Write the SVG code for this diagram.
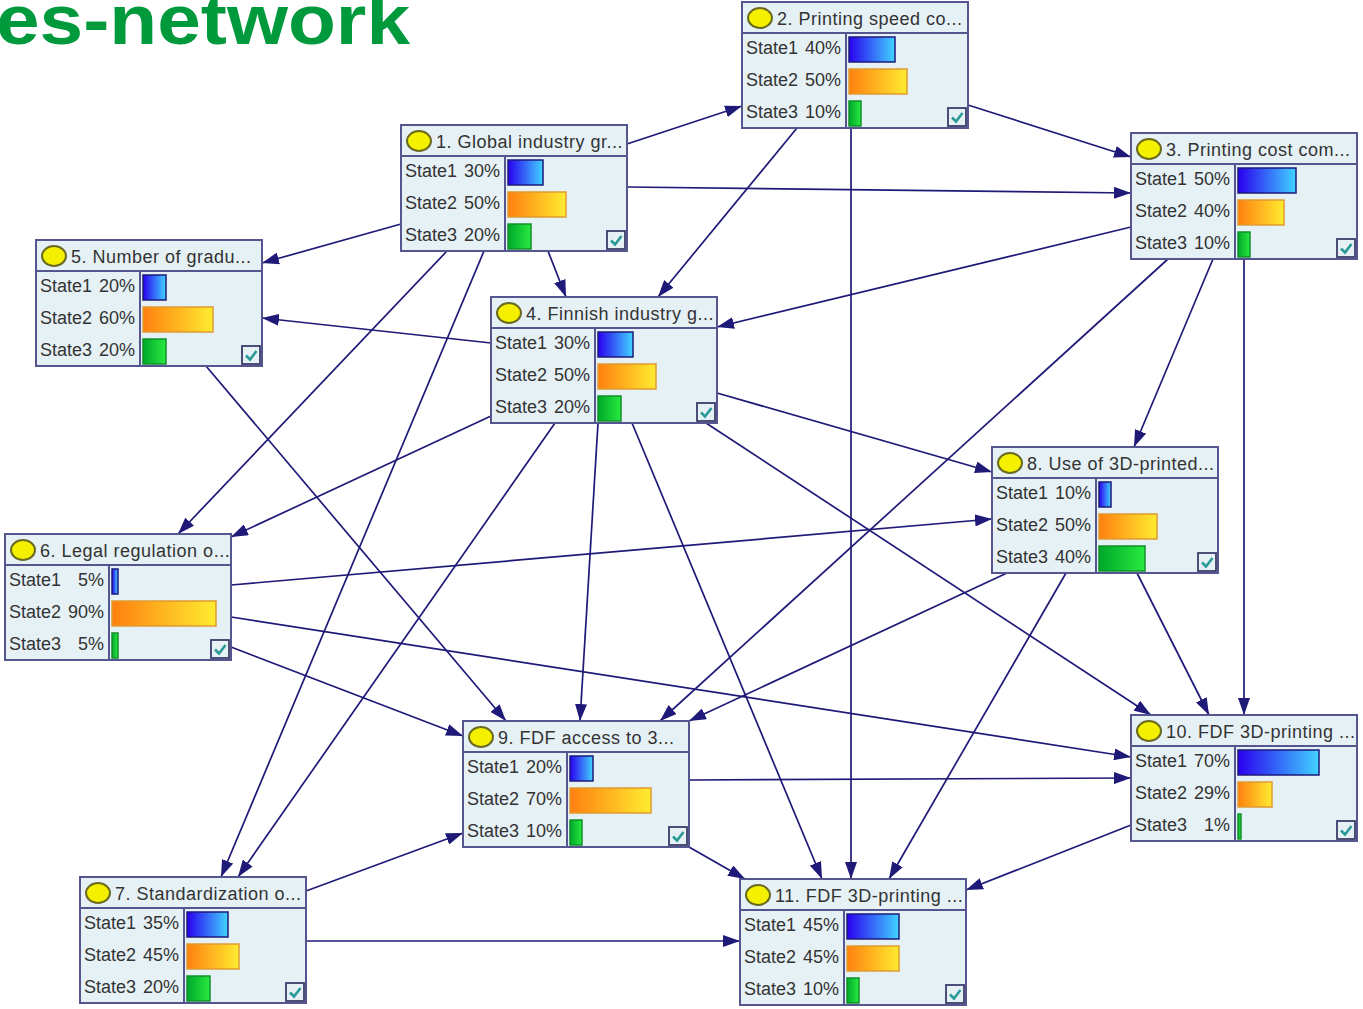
<svg xmlns="http://www.w3.org/2000/svg" xmlns:xlink="http://www.w3.org/1999/xlink" width="1363" height="1009" viewBox="0 0 1363 1009">
<style>
.box{fill:#e6f1f6;stroke:#55558f;stroke-width:2}
.sep{stroke:#55558f;stroke-width:2}
.dot{fill:#f5f000;stroke:#6a6a20;stroke-width:2}
.ttl{font-family:"Liberation Sans",Arial,sans-serif;font-size:18px;fill:#333;letter-spacing:0.5px}
.st{font-family:"Liberation Sans",Arial,sans-serif;font-size:18px;fill:#333}
.pc{font-family:"Liberation Sans",Arial,sans-serif;font-size:18px;fill:#333;text-anchor:end}
.b1{fill:url(#g1);stroke:#1c1a7a;stroke-width:1.5}
.b2{fill:url(#g2);stroke:#e09a30;stroke-width:1.5}
.b3{fill:url(#g3);stroke:#10902a;stroke-width:1.5}
.edge{stroke:#1f1a78;stroke-width:1.7;fill:none;marker-end:url(#arr)}
.hdr{font-family:"Liberation Sans",Arial,sans-serif;font-weight:bold;font-size:70px;fill:#009a3c}
</style>
<defs>
<linearGradient id="g1" x1="0" y1="0" x2="1" y2="0"><stop offset="0" stop-color="#2a00f0"/><stop offset="1" stop-color="#40d4ff"/></linearGradient>
<linearGradient id="g2" x1="0" y1="0" x2="1" y2="0"><stop offset="0" stop-color="#ff8010"/><stop offset="1" stop-color="#ffec30"/></linearGradient>
<linearGradient id="g3" x1="0" y1="0" x2="1" y2="0"><stop offset="0" stop-color="#00a82a"/><stop offset="1" stop-color="#28ea40"/></linearGradient>
<marker id="arr" markerUnits="userSpaceOnUse" markerWidth="18" markerHeight="12" refX="17" refY="6" orient="auto"><path d="M0,0 L17,6 L0,12 Z" fill="#1f1a78"/></marker>
<g id="chk"><rect x="0" y="0" width="18" height="18" fill="#e6f1f6" stroke="#3c3c6a" stroke-width="1.8"/><path d="M4,9.5 L8,13.5 L14.5,5" fill="none" stroke="#2a9a98" stroke-width="2.6"/></g>
</defs>
<rect width="1363" height="1009" fill="#ffffff"/>
<text class="hdr" x="-4" y="44" textLength="414" lengthAdjust="spacingAndGlyphs">es-network</text>

<g id="connectors">
<line class="edge" x1="627" y1="144" x2="742" y2="106"/>
<line class="edge" x1="627" y1="187" x2="1131" y2="193"/>
<line class="edge" x1="401" y1="224" x2="262" y2="263"/>
<line class="edge" x1="548" y1="251" x2="566" y2="297"/>
<line class="edge" x1="447" y1="251" x2="178" y2="534"/>
<line class="edge" x1="484" y1="251" x2="221" y2="877"/>
<line class="edge" x1="968" y1="105" x2="1131" y2="157"/>
<line class="edge" x1="797" y1="128" x2="658" y2="297"/>
<line class="edge" x1="851" y1="128" x2="851" y2="879"/>
<line class="edge" x1="1131" y1="227" x2="717" y2="327"/>
<line class="edge" x1="1213" y1="259" x2="1134" y2="447"/>
<line class="edge" x1="1168" y1="259" x2="660" y2="721"/>
<line class="edge" x1="1244" y1="259" x2="1244" y2="715"/>
<line class="edge" x1="491" y1="343" x2="262" y2="318"/>
<line class="edge" x1="491" y1="416" x2="231" y2="537"/>
<line class="edge" x1="555" y1="423" x2="238" y2="877"/>
<line class="edge" x1="717" y1="393" x2="992" y2="472"/>
<line class="edge" x1="598" y1="423" x2="580" y2="721"/>
<line class="edge" x1="632" y1="423" x2="822" y2="879"/>
<line class="edge" x1="706" y1="423" x2="1151" y2="715"/>
<line class="edge" x1="206" y1="366" x2="506" y2="721"/>
<line class="edge" x1="231" y1="585" x2="992" y2="519"/>
<line class="edge" x1="231" y1="617" x2="1131" y2="757"/>
<line class="edge" x1="231" y1="647" x2="463" y2="736"/>
<line class="edge" x1="306" y1="891" x2="463" y2="833"/>
<line class="edge" x1="306" y1="941" x2="740" y2="941"/>
<line class="edge" x1="1007" y1="573" x2="689" y2="721"/>
<line class="edge" x1="1066" y1="573" x2="889" y2="879"/>
<line class="edge" x1="1137" y1="573" x2="1209" y2="715"/>
<line class="edge" x1="689" y1="780" x2="1131" y2="778"/>
<line class="edge" x1="689" y1="847" x2="745" y2="879"/>
<line class="edge" x1="1131" y1="825" x2="966" y2="890"/>
</g>

<g id="node1" transform="translate(401,125)">
<rect class="box" width="226" height="126"/><line class="sep" x1="0" y1="31" x2="226" y2="31"/><line class="sep" x1="104" y1="31" x2="104" y2="126"/>
<ellipse class="dot" cx="18" cy="16" rx="12" ry="10"/><text class="ttl" x="35" y="23">1. Global industry gr...</text>
<text class="st" x="4" y="52">State1</text><text class="pc" x="99" y="52">30%</text>
<text class="st" x="4" y="84">State2</text><text class="pc" x="99" y="84">50%</text>
<text class="st" x="4" y="116">State3</text><text class="pc" x="99" y="116">20%</text>
<rect class="b1" x="107" y="35" width="35" height="25"/><rect class="b2" x="107" y="67" width="58" height="25"/><rect class="b3" x="107" y="99" width="23" height="25"/>
<use xlink:href="#chk" x="206" y="106"/>
</g>

<g id="node2" transform="translate(742,2)">
<rect class="box" width="226" height="126"/><line class="sep" x1="0" y1="31" x2="226" y2="31"/><line class="sep" x1="104" y1="31" x2="104" y2="126"/>
<ellipse class="dot" cx="18" cy="16" rx="12" ry="10"/><text class="ttl" x="35" y="23">2. Printing speed co...</text>
<text class="st" x="4" y="52">State1</text><text class="pc" x="99" y="52">40%</text>
<text class="st" x="4" y="84">State2</text><text class="pc" x="99" y="84">50%</text>
<text class="st" x="4" y="116">State3</text><text class="pc" x="99" y="116">10%</text>
<rect class="b1" x="107" y="35" width="46" height="25"/><rect class="b2" x="107" y="67" width="58" height="25"/><rect class="b3" x="107" y="99" width="12" height="25"/>
<use xlink:href="#chk" x="206" y="106"/>
</g>

<g id="node3" transform="translate(1131,133)">
<rect class="box" width="226" height="126"/><line class="sep" x1="0" y1="31" x2="226" y2="31"/><line class="sep" x1="104" y1="31" x2="104" y2="126"/>
<ellipse class="dot" cx="18" cy="16" rx="12" ry="10"/><text class="ttl" x="35" y="23">3. Printing cost com...</text>
<text class="st" x="4" y="52">State1</text><text class="pc" x="99" y="52">50%</text>
<text class="st" x="4" y="84">State2</text><text class="pc" x="99" y="84">40%</text>
<text class="st" x="4" y="116">State3</text><text class="pc" x="99" y="116">10%</text>
<rect class="b1" x="107" y="35" width="58" height="25"/><rect class="b2" x="107" y="67" width="46" height="25"/><rect class="b3" x="107" y="99" width="12" height="25"/>
<use xlink:href="#chk" x="206" y="106"/>
</g>

<g id="node4" transform="translate(491,297)">
<rect class="box" width="226" height="126"/><line class="sep" x1="0" y1="31" x2="226" y2="31"/><line class="sep" x1="104" y1="31" x2="104" y2="126"/>
<ellipse class="dot" cx="18" cy="16" rx="12" ry="10"/><text class="ttl" x="35" y="23">4. Finnish industry g...</text>
<text class="st" x="4" y="52">State1</text><text class="pc" x="99" y="52">30%</text>
<text class="st" x="4" y="84">State2</text><text class="pc" x="99" y="84">50%</text>
<text class="st" x="4" y="116">State3</text><text class="pc" x="99" y="116">20%</text>
<rect class="b1" x="107" y="35" width="35" height="25"/><rect class="b2" x="107" y="67" width="58" height="25"/><rect class="b3" x="107" y="99" width="23" height="25"/>
<use xlink:href="#chk" x="206" y="106"/>
</g>

<g id="node5" transform="translate(36,240)">
<rect class="box" width="226" height="126"/><line class="sep" x1="0" y1="31" x2="226" y2="31"/><line class="sep" x1="104" y1="31" x2="104" y2="126"/>
<ellipse class="dot" cx="18" cy="16" rx="12" ry="10"/><text class="ttl" x="35" y="23">5. Number of gradu...</text>
<text class="st" x="4" y="52">State1</text><text class="pc" x="99" y="52">20%</text>
<text class="st" x="4" y="84">State2</text><text class="pc" x="99" y="84">60%</text>
<text class="st" x="4" y="116">State3</text><text class="pc" x="99" y="116">20%</text>
<rect class="b1" x="107" y="35" width="23" height="25"/><rect class="b2" x="107" y="67" width="70" height="25"/><rect class="b3" x="107" y="99" width="23" height="25"/>
<use xlink:href="#chk" x="206" y="106"/>
</g>

<g id="node6" transform="translate(5,534)">
<rect class="box" width="226" height="126"/><line class="sep" x1="0" y1="31" x2="226" y2="31"/><line class="sep" x1="104" y1="31" x2="104" y2="126"/>
<ellipse class="dot" cx="18" cy="16" rx="12" ry="10"/><text class="ttl" x="35" y="23">6. Legal regulation o...</text>
<text class="st" x="4" y="52">State1</text><text class="pc" x="99" y="52">5%</text>
<text class="st" x="4" y="84">State2</text><text class="pc" x="99" y="84">90%</text>
<text class="st" x="4" y="116">State3</text><text class="pc" x="99" y="116">5%</text>
<rect class="b1" x="107" y="35" width="6" height="25"/><rect class="b2" x="107" y="67" width="104" height="25"/><rect class="b3" x="107" y="99" width="6" height="25"/>
<use xlink:href="#chk" x="206" y="106"/>
</g>

<g id="node7" transform="translate(80,877)">
<rect class="box" width="226" height="126"/><line class="sep" x1="0" y1="31" x2="226" y2="31"/><line class="sep" x1="104" y1="31" x2="104" y2="126"/>
<ellipse class="dot" cx="18" cy="16" rx="12" ry="10"/><text class="ttl" x="35" y="23">7. Standardization o...</text>
<text class="st" x="4" y="52">State1</text><text class="pc" x="99" y="52">35%</text>
<text class="st" x="4" y="84">State2</text><text class="pc" x="99" y="84">45%</text>
<text class="st" x="4" y="116">State3</text><text class="pc" x="99" y="116">20%</text>
<rect class="b1" x="107" y="35" width="41" height="25"/><rect class="b2" x="107" y="67" width="52" height="25"/><rect class="b3" x="107" y="99" width="23" height="25"/>
<use xlink:href="#chk" x="206" y="106"/>
</g>

<g id="node8" transform="translate(992,447)">
<rect class="box" width="226" height="126"/><line class="sep" x1="0" y1="31" x2="226" y2="31"/><line class="sep" x1="104" y1="31" x2="104" y2="126"/>
<ellipse class="dot" cx="18" cy="16" rx="12" ry="10"/><text class="ttl" x="35" y="23">8. Use of 3D-printed...</text>
<text class="st" x="4" y="52">State1</text><text class="pc" x="99" y="52">10%</text>
<text class="st" x="4" y="84">State2</text><text class="pc" x="99" y="84">50%</text>
<text class="st" x="4" y="116">State3</text><text class="pc" x="99" y="116">40%</text>
<rect class="b1" x="107" y="35" width="12" height="25"/><rect class="b2" x="107" y="67" width="58" height="25"/><rect class="b3" x="107" y="99" width="46" height="25"/>
<use xlink:href="#chk" x="206" y="106"/>
</g>

<g id="node9" transform="translate(463,721)">
<rect class="box" width="226" height="126"/><line class="sep" x1="0" y1="31" x2="226" y2="31"/><line class="sep" x1="104" y1="31" x2="104" y2="126"/>
<ellipse class="dot" cx="18" cy="16" rx="12" ry="10"/><text class="ttl" x="35" y="23">9. FDF access to 3...</text>
<text class="st" x="4" y="52">State1</text><text class="pc" x="99" y="52">20%</text>
<text class="st" x="4" y="84">State2</text><text class="pc" x="99" y="84">70%</text>
<text class="st" x="4" y="116">State3</text><text class="pc" x="99" y="116">10%</text>
<rect class="b1" x="107" y="35" width="23" height="25"/><rect class="b2" x="107" y="67" width="81" height="25"/><rect class="b3" x="107" y="99" width="12" height="25"/>
<use xlink:href="#chk" x="206" y="106"/>
</g>

<g id="node10" transform="translate(1131,715)">
<rect class="box" width="226" height="126"/><line class="sep" x1="0" y1="31" x2="226" y2="31"/><line class="sep" x1="104" y1="31" x2="104" y2="126"/>
<ellipse class="dot" cx="18" cy="16" rx="12" ry="10"/><text class="ttl" x="35" y="23">10. FDF 3D-printing  ...</text>
<text class="st" x="4" y="52">State1</text><text class="pc" x="99" y="52">70%</text>
<text class="st" x="4" y="84">State2</text><text class="pc" x="99" y="84">29%</text>
<text class="st" x="4" y="116">State3</text><text class="pc" x="99" y="116">1%</text>
<rect class="b1" x="107" y="35" width="81" height="25"/><rect class="b2" x="107" y="67" width="34" height="25"/><rect class="b3" x="107" y="99" width="3" height="25"/>
<use xlink:href="#chk" x="206" y="106"/>
</g>

<g id="node11" transform="translate(740,879)">
<rect class="box" width="226" height="126"/><line class="sep" x1="0" y1="31" x2="226" y2="31"/><line class="sep" x1="104" y1="31" x2="104" y2="126"/>
<ellipse class="dot" cx="18" cy="16" rx="12" ry="10"/><text class="ttl" x="35" y="23">11. FDF 3D-printing ...</text>
<text class="st" x="4" y="52">State1</text><text class="pc" x="99" y="52">45%</text>
<text class="st" x="4" y="84">State2</text><text class="pc" x="99" y="84">45%</text>
<text class="st" x="4" y="116">State3</text><text class="pc" x="99" y="116">10%</text>
<rect class="b1" x="107" y="35" width="52" height="25"/><rect class="b2" x="107" y="67" width="52" height="25"/><rect class="b3" x="107" y="99" width="12" height="25"/>
<use xlink:href="#chk" x="206" y="106"/>
</g>
</svg>
